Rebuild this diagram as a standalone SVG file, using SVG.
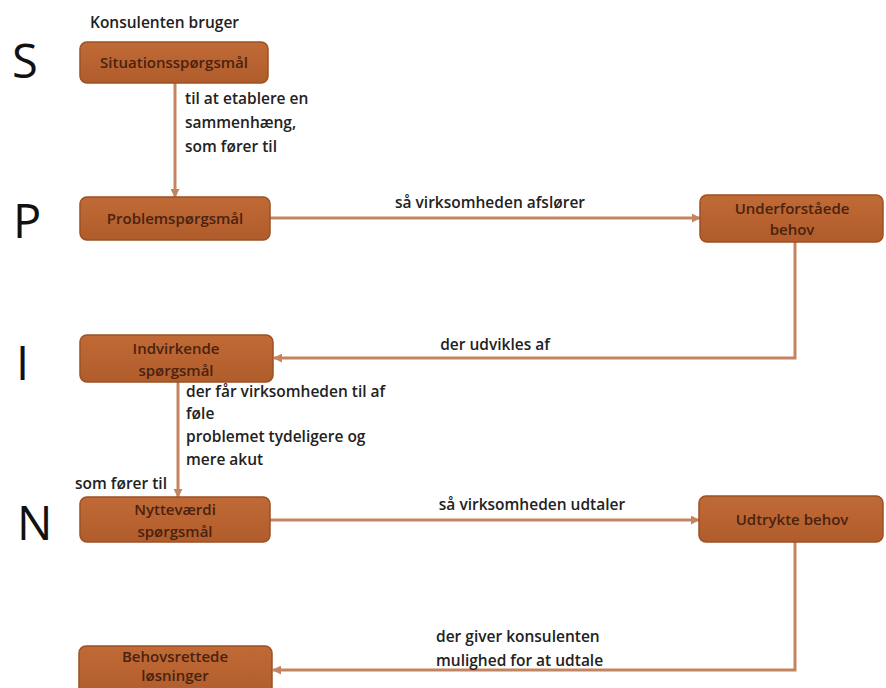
<svg xmlns="http://www.w3.org/2000/svg" width="886" height="688" viewBox="0 0 886 688">
<defs>
<linearGradient id="boxg" x1="0" y1="0" x2="0" y2="1">
<stop offset="0" stop-color="#c06a36"/>
<stop offset="1" stop-color="#b05c2b"/>
</linearGradient>
<marker id="arr" viewBox="0 0 10 10" refX="9" refY="5" markerWidth="9" markerHeight="9" markerUnits="userSpaceOnUse" orient="auto">
<path d="M0,0 L10,5 L0,10 Z" fill="#c48460"/>
</marker>
</defs>
<style>
.box{fill:url(#boxg);stroke:#9c5024;stroke-width:1.5}
.bt{font-family:"Open Sans","Liberation Sans",sans-serif;font-size:15px;font-weight:600;fill:#4a2210;text-anchor:middle}
.lb{font-family:"Open Sans","Liberation Sans",sans-serif;font-size:15.5px;font-weight:600;fill:#222}
.big{font-family:"Open Sans","Liberation Sans",sans-serif;font-size:47px;fill:#111}
.con{fill:none;stroke:#c48460;stroke-width:3;marker-end:url(#arr)}
</style>
<rect width="886" height="688" fill="#fff"/>
<g id="letters">
<text class="big" x="12" y="78">S</text>
<text class="big" x="13" y="238">P</text>
<text class="big" x="16" y="380">I</text>
<text class="big" x="17" y="540">N</text>
</g>
<g id="connectors">
<path class="con" d="M175,83 V197"/>
<path class="con" d="M270,218 H700"/>
<path class="con" d="M795,242 V358 H274"/>
<path class="con" d="M178,382 V497"/>
<path class="con" d="M270,520 H699"/>
<path class="con" d="M795,542 V670 H273"/>
</g>
<g id="labels">
<text class="lb" x="90" y="28">Konsulenten bruger</text>
<text class="lb" x="185" y="104">til at etablere en</text>
<text class="lb" x="185" y="128">sammenhæng,</text>
<text class="lb" x="185" y="152">som fører til</text>
<text class="lb" x="490" y="208" text-anchor="middle">så virksomheden afslører</text>
<text class="lb" x="495" y="350" text-anchor="middle">der udvikles af</text>
<text class="lb" x="186" y="397">der får virksomheden til af</text>
<text class="lb" x="186" y="419">føle</text>
<text class="lb" x="186" y="442">problemet tydeligere og</text>
<text class="lb" x="186" y="465">mere akut</text>
<text class="lb" x="75" y="489">som fører til</text>
<text class="lb" x="532" y="510" text-anchor="middle">så virksomheden udtaler</text>
<text class="lb" x="436" y="642">der giver konsulenten</text>
<text class="lb" x="436" y="666">mulighed for at udtale</text>
</g>
<g id="node-s">
<rect class="box" x="80" y="42" width="188" height="41" rx="7"/>
<text class="bt" x="174" y="68">Situationsspørgsmål</text>
</g>
<g id="node-p">
<rect class="box" x="80" y="197" width="190" height="43" rx="7"/>
<text class="bt" x="175" y="224">Problemspørgsmål</text>
</g>
<g id="node-u">
<rect class="box" x="700" y="195" width="183" height="47" rx="7"/>
<text class="bt" x="792" y="214">Underforståede</text>
<text class="bt" x="792" y="235">behov</text>
</g>
<g id="node-i">
<rect class="box" x="80" y="335" width="193" height="47" rx="7"/>
<text class="bt" x="176" y="354">Indvirkende</text>
<text class="bt" x="176" y="376">spørgsmål</text>
</g>
<g id="node-n">
<rect class="box" x="80" y="497" width="190" height="45" rx="7"/>
<text class="bt" x="175" y="515">Nytteværdi</text>
<text class="bt" x="175" y="537">spørgsmål</text>
</g>
<g id="node-ud">
<rect class="box" x="699" y="496" width="184" height="46" rx="7"/>
<text class="bt" x="792" y="525">Udtrykte behov</text>
</g>
<g id="node-b">
<rect class="box" x="79" y="646" width="193" height="50" rx="7"/>
<text class="bt" x="175" y="662">Behovsrettede</text>
<text class="bt" x="175" y="681">løsninger</text>
</g>
</svg>
